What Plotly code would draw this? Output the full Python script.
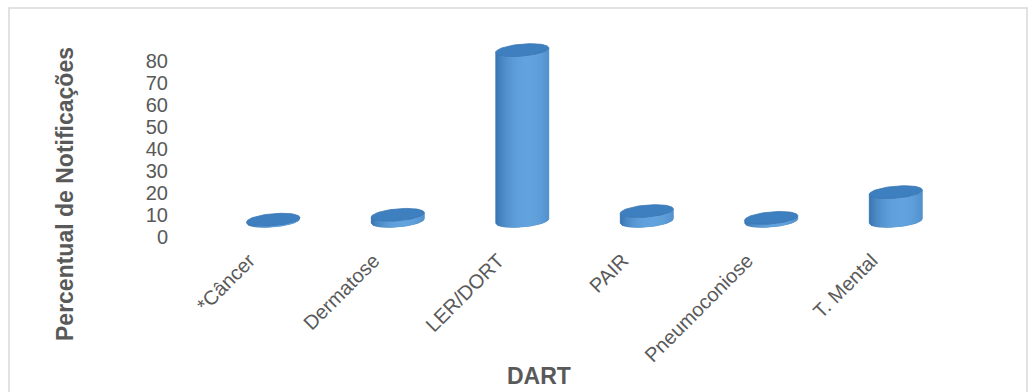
import numpy as np
import plotly.graph_objects as go

# Percent of notifications per work-related disease (DART)
categories = ["*Câncer", "Dermatose", "LER/DORT", "PAIR", "Pneumoconiose", "T. Mental"]
percentages = [0.6, 2.8, 77.6, 4.5, 1.4, 13.1]
y_ticks = [0, 10, 20, 30, 40, 50, 60, 70, 80]

# Canvas and plot-area geometry
W, H = 1035, 392
M_L, M_R, M_T, M_B = 211, 77, 36, 160
X_RANGE = [-0.5, 5.5]
Y_RANGE = [-5, 84]
plot_w = W - M_L - M_R
plot_h = H - M_T - M_B
px_per_x = plot_w / (X_RANGE[1] - X_RANGE[0])
px_per_y = plot_h / (Y_RANGE[1] - Y_RANGE[0])

# Cylinder look (pixel sizes converted to data units)
RADIUS_PX, ELL_PX, TILT_PX = 26.5, 6.0, 2.2
a = RADIUS_PX / px_per_x
b = ELL_PX / px_per_y
k = TILT_PX / px_per_y
N_STRIPS = 30
DARK = np.array([50, 108, 168])
LIGHT = np.array([98, 163, 222])
TOP = "rgb(62,127,191)"
GREY = "#595959"
FONT = "Liberation Sans, Arial, sans-serif"


def front_arc(u):
    """Lower (front) half of the tilted ellipse, as y offset for x offset u in [-1, 1]."""
    return -b * np.sqrt(np.clip(1 - u ** 2, 0, 1)) + k * u


def shade(u):
    t = 1 - ((u - 0.2) / 1.25) ** 2
    t = max(0.0, t) ** 0.8
    c = DARK + (LIGHT - DARK) * t
    return "rgb(%d,%d,%d)" % tuple(int(round(v)) for v in c)


def body_polygon(i, val, u0, u1, n=6):
    us = np.linspace(u0, u1, n)
    xs_b = i + a * us
    ys_b = front_arc(us)
    xs = np.concatenate([xs_b, xs_b[::-1], xs_b[:1]])
    ys = np.concatenate([ys_b, (ys_b + val)[::-1], ys_b[:1]])
    return xs, ys


fig = go.Figure()

for i, (cat, val) in enumerate(zip(categories, percentages)):
    # solid underlay so the shading strips show no seams
    xs, ys = body_polygon(i, val, -1, 1, 60)
    fig.add_trace(go.Scatter(
        x=xs, y=ys, mode="lines", fill="toself", fillcolor=shade(0.0),
        line=dict(color=shade(-1.0), width=0.6), hoverinfo="skip", showlegend=False,
    ))
    edges = np.linspace(-1, 1, N_STRIPS + 1)
    step = edges[1] - edges[0]
    for u0, u1 in zip(edges[:-1], edges[1:]):
        xs, ys = body_polygon(i, val, u0, min(1.0, u1 + 0.6 * step))
        fig.add_trace(go.Scatter(
            x=xs, y=ys, mode="lines", fill="toself", fillcolor=shade((u0 + u1) / 2),
            line=dict(width=0), hoverinfo="skip", showlegend=False,
        ))
    t = np.linspace(0, 2 * np.pi, 73)
    fig.add_trace(go.Scatter(
        x=i + a * np.cos(t), y=val + b * np.sin(t) + k * np.cos(t),
        mode="lines", fill="toself", fillcolor=TOP,
        line=dict(color="rgb(58,118,180)", width=0.8),
        hovertemplate=f"{cat}: {val}%<extra></extra>", showlegend=False,
    ))


def paper_x(px):
    return (px - M_L) / plot_w


def paper_y(py):
    return (H - M_B - py) / plot_h


fig.update_layout(
    width=W, height=H,
    margin=dict(l=M_L, r=M_R, t=M_T, b=M_B, autoexpand=False),
    paper_bgcolor="white", plot_bgcolor="white",
    font=dict(family=FONT, color=GREY),
    xaxis=dict(
        range=X_RANGE, tickmode="array", tickvals=list(range(len(categories))),
        ticktext=categories, tickangle=-45, showgrid=False, zeroline=False,
        showline=False, ticks="", tickfont=dict(size=20, color=GREY),
        ticklabelshift=-24, ticklabelstandoff=12, automargin=False, fixedrange=True,
    ),
    yaxis=dict(
        range=Y_RANGE, tickmode="array", tickvals=y_ticks,
        ticktext=[str(v) for v in y_ticks], showgrid=False, zeroline=False,
        showline=False, ticks="", tickfont=dict(size=20, color=GREY),
        ticklabelshift=16, ticklabelstandoff=42, automargin=False, fixedrange=True,
    ),
    shapes=[dict(
        type="rect", xref="paper", yref="paper",
        x0=paper_x(9), x1=paper_x(1027), y0=paper_y(400), y1=paper_y(8),
        line=dict(color="#D9D9D9", width=1.5), layer="below",
    )],
    annotations=[
        dict(text="<b>Percentual de Notificações</b>", textangle=-90,
             xref="paper", yref="paper", x=paper_x(65), y=paper_y(194),
             xanchor="center", yanchor="middle", showarrow=False,
             font=dict(size=23, color=GREY)),
        dict(text="<b>DART</b>", xref="paper", yref="paper",
             x=paper_x(539), y=paper_y(376), xanchor="center", yanchor="middle",
             showarrow=False, font=dict(size=23, color=GREY)),
    ],
)

fig.write_html("out.html")
